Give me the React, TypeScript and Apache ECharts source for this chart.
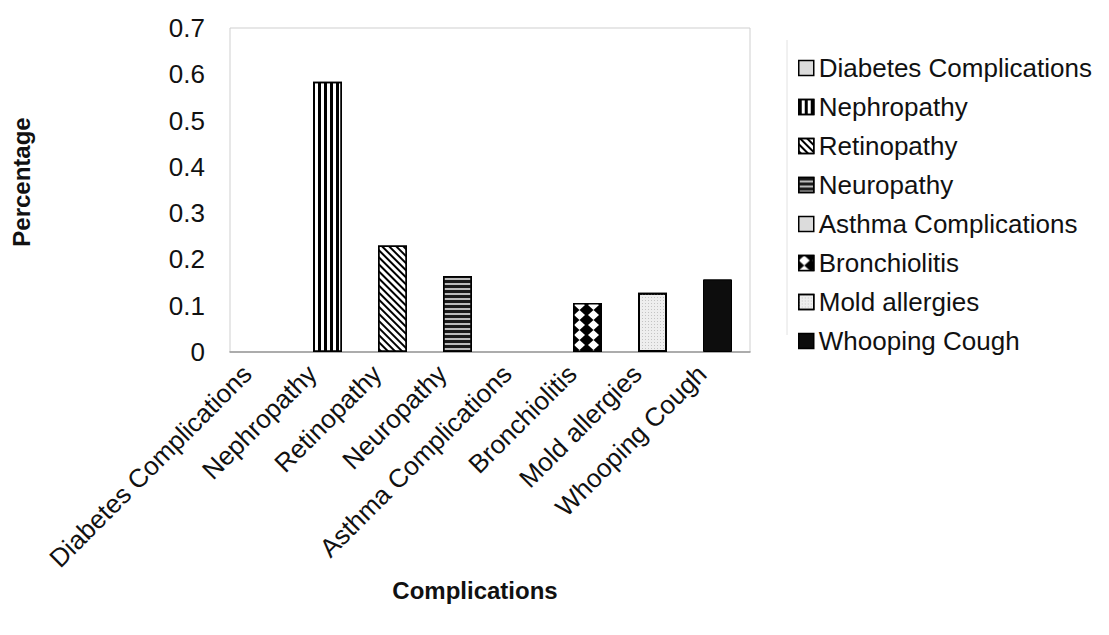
import React, { useEffect, useRef } from "react";
import * as echarts from "echarts";

// Share of patients with each complication
const categories: string[] = [
  "Diabetes Complications",
  "Nephropathy",
  "Retinopathy",
  "Neuropathy",
  "Asthma Complications",
  "Bronchiolitis",
  "Mold allergies",
  "Whooping Cough",
];
const values: number[] = [0, 0.584, 0.23, 0.164, 0, 0.106, 0.128, 0.157];
const yTicks = { min: 0, max: 0.7, interval: 0.1 };

const FONT = "'Liberation Sans', Arial, Helvetica, sans-serif";

// Monochrome fill pattern for each category's bar
const styles: any[] = [
  { color: "#dcdcdc", borderColor: "#000", borderWidth: 0 },
  {
    color: "#fff",
    borderColor: "#000",
    borderWidth: 1.5,
    decal: {
      symbol: "rect",
      symbolSize: 1,
      color: "#000",
      backgroundColor: "#fff",
      dashArrayX: [3, 3],
      dashArrayY: [4, 0],
    },
  },
  {
    color: "#fff",
    borderColor: "#000",
    borderWidth: 1.5,
    decal: {
      symbol: "rect",
      symbolSize: 1,
      color: "#000",
      backgroundColor: "#fff",
      dashArrayX: [2, 3],
      dashArrayY: [4, 0],
      rotation: -Math.PI / 4,
    },
  },
  {
    color: "#bbb",
    borderColor: "#000",
    borderWidth: 1.5,
    decal: {
      symbol: "rect",
      symbolSize: 1,
      color: "#1a1a1a",
      backgroundColor: "#c8c8c8",
      dashArrayX: [4, 0],
      dashArrayY: [3, 2],
    },
  },
  { color: "#dcdcdc", borderColor: "#000", borderWidth: 0 },
  {
    color: "#000",
    borderColor: "#000",
    borderWidth: 1.5,
    decal: {
      symbol: "diamond",
      symbolSize: 1,
      color: "#fff",
      backgroundColor: "#000",
      dashArrayX: [11, 3],
      dashArrayY: [10, 0],
    },
  },
  {
    color: "#eee",
    borderColor: "#000",
    borderWidth: 2,
    decal: {
      symbol: "rect",
      symbolSize: 1,
      color: "#c4c4c4",
      backgroundColor: "#f4f4f4",
      dashArrayX: [1, 2],
      dashArrayY: [1, 2],
    },
  },
  { color: "#0d0d0d", borderColor: "#000", borderWidth: 1 },
];

export default function App() {
  const ref = useRef<HTMLDivElement>(null);

  useEffect(() => {
    if (!ref.current) return;
    const chart = echarts.init(ref.current, undefined, { renderer: "svg" });

    const series = categories.map((name, i) => ({
      name,
      type: "bar",
      stack: "all",
      barWidth: 29,
      itemStyle: styles[i],
      data: categories.map((_, j) => (j === i ? values[i] : "-")),
    }));

    chart.setOption({
      animation: false,
      backgroundColor: "#fff",
      textStyle: { fontFamily: FONT },
      grid: {
        left: 230,
        top: 28,
        width: 520,
        height: 324,
        show: true,
        borderColor: "#cfcfcf",
        borderWidth: 1,
      },
      legend: {
        orient: "vertical",
        left: 793,
        top: 49,
        itemWidth: 15,
        itemHeight: 15,
        itemGap: 11,
        icon: "rect",
        itemStyle: { borderColor: "#000", borderWidth: 1.5 },
        textStyle: {
          fontFamily: FONT,
          fontSize: 26,
          lineHeight: 28,
          color: "#111",
        },
        data: categories,
      },
      xAxis: {
        type: "category",
        data: categories,
        name: "Complications",
        nameLocation: "middle",
        nameGap: 226,
        nameTextStyle: {
          fontFamily: FONT,
          fontSize: 24,
          fontWeight: "bold",
          color: "#111",
          padding: [0, 30, 0, 0],
        },
        axisLine: { show: true, lineStyle: { color: "#999", width: 1.5 } },
        axisTick: { show: false },
        axisLabel: {
          interval: 0,
          rotate: 45,
          margin: 2,
          padding: [0, 22, 0, 0],
          fontFamily: FONT,
          fontSize: 26,
          color: "#111",
        },
      },
      yAxis: {
        type: "value",
        min: yTicks.min,
        max: yTicks.max,
        interval: yTicks.interval,
        name: "Percentage",
        nameLocation: "middle",
        nameGap: 197,
        nameTextStyle: {
          fontFamily: FONT,
          fontSize: 24,
          fontWeight: "bold",
          color: "#111",
          padding: [0, 0, 0, 16],
        },
        axisLine: { show: false },
        axisTick: { show: false },
        splitLine: { show: false },
        axisLabel: {
          margin: 25,
          fontFamily: FONT,
          fontSize: 26,
          color: "#111",
        },
      },
      graphic: [
        {
          type: "line",
          shape: { x1: 787, y1: 40, x2: 787, y2: 335 },
          style: { stroke: "#e2e2e2", lineWidth: 1 },
        },
      ],
      series,
    });

    return () => chart.dispose();
  }, []);

  return (
    <div
      ref={ref}
      style={{ position: "fixed", left: 0, top: 0, width: 1109, height: 635 }}
    />
  );
}
